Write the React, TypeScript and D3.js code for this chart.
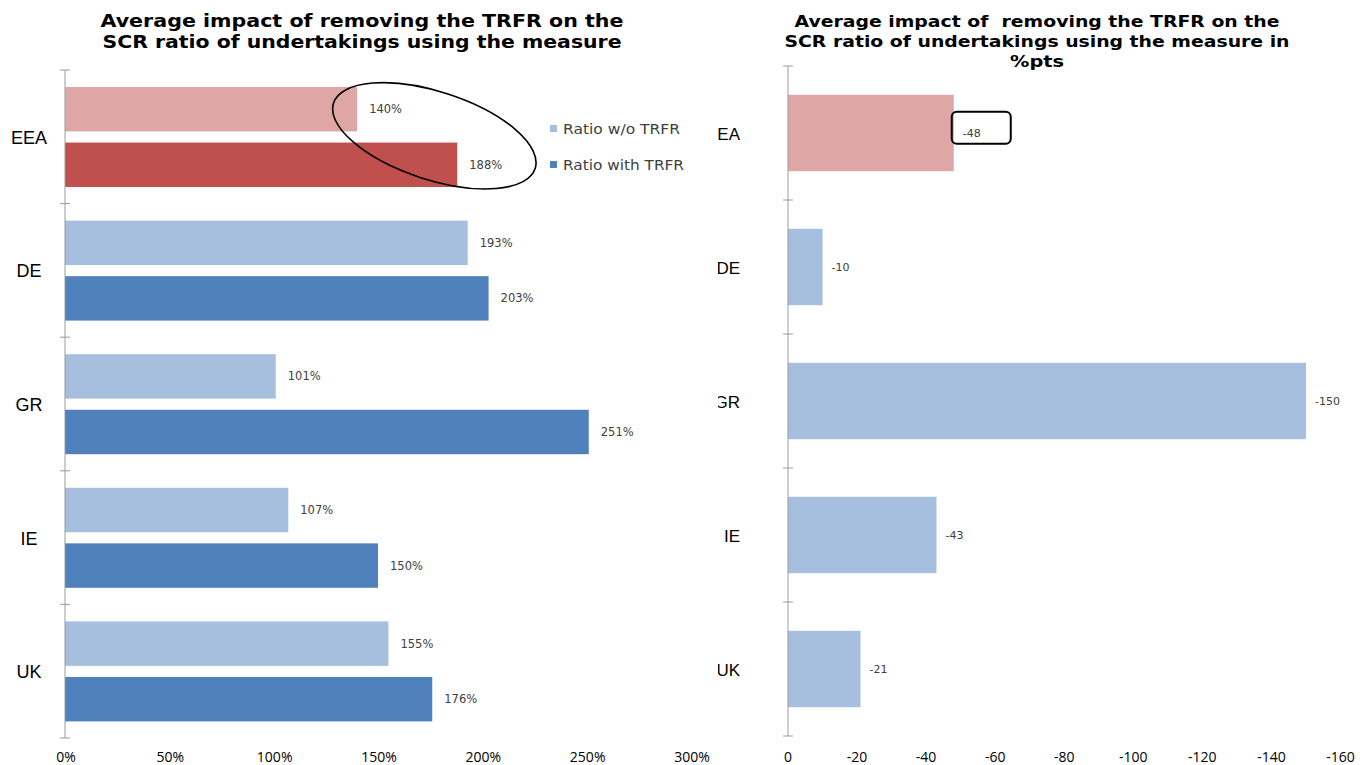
import React from "react";
import * as d3 from "d3";

const categories = ["EEA", "DE", "GR", "IE", "UK"];
const ratioWithoutTRFR = [140, 193, 101, 107, 155];
const ratioWithTRFR = [188, 203, 251, 150, 176];
const impactPts = [-48, -10, -150, -43, -21];
const leftTicks = [0, 50, 100, 150, 200, 250, 300];
const rightTicks = [0, -20, -40, -60, -80, -100, -120, -140, -160];
const seriesNames = ["Ratio w/o TRFR", "Ratio with TRFR"];

const C_LIGHT = "#A7BFDE";
const C_DARK = "#4F81BD";
const C_PINK = "#DEA7A6";
const C_RED = "#C0504D";
const AXIS = "#9a9a9a";
const TXT = "#404040";

export default function App() {
  const W = 1360, H = 765;
  // Left chart scales
  const xL = d3.scaleLinear().domain([0, 300]).range([65, 691]);
  const yL = d3.scaleBand<string>().domain(categories).range([70, 738]).padding(0);
  const sub = d3.scaleBand<string>().domain(["wo", "with"]).range([17, 117]).paddingInner(0.2);
  // Right chart scales
  const xR = d3.scaleLinear().domain([0, -160]).range([788, 1340.5]);
  const yR = d3.scaleBand<string>().domain(categories).range([66, 736]).paddingInner(0.43).paddingOuter(0.215);

  const sans = "'DejaVu Sans', Verdana, sans-serif";
  const catFont = "'Liberation Sans', Arial, sans-serif";
  const tickFont = "'Open Sans', 'Liberation Sans', sans-serif";

  const eeaC = yL("EEA")! + yL.bandwidth() / 2;

  const titleL = [
    { t: "Average impact of removing the TRFR on the", y: 27, w: 523 },
    { t: "SCR ratio of undertakings using the measure", y: 48, w: 519 },
  ];
  const titleR = [
    { t: "Average impact of  removing the TRFR on the", y: 27, w: 485 },
    { t: "SCR ratio of undertakings using the measure in", y: 47, w: 505 },
    { t: "%pts", y: 67, w: 54 },
  ];

  return (
    <svg width={W} height={H} style={{ position: "absolute", left: 0, top: 0, background: "#fff" }}>
      <defs>
        <clipPath id="rightClip">
          <rect x={718} y={0} width={W - 718} height={H} />
        </clipPath>
      </defs>
      <rect width={W} height={H} fill="#fff" />

      {/* Left title */}
      {titleL.map((l) => (
        <text key={l.t} x={362} y={l.y} textAnchor="middle" fontFamily={sans} fontWeight="bold" fontSize={17}
          textLength={l.w} lengthAdjust="spacingAndGlyphs" fill="#000" style={{ whiteSpace: "pre" }}>
          {l.t}
        </text>
      ))}

      {/* Left bars */}
      {categories.map((c, i) => {
        const y0 = yL(c)!;
        const isEEA = c === "EEA";
        const vals = [ratioWithoutTRFR[i], ratioWithTRFR[i]];
        return (
          <g key={c}>
            {["wo", "with"].map((s, j) => {
              const y = y0 + sub(s)!;
              const fill = isEEA ? (j === 0 ? C_PINK : C_RED) : j === 0 ? C_LIGHT : C_DARK;
              return (
                <g key={s}>
                  <rect x={xL(0)} y={y} width={xL(vals[j]) - xL(0)} height={sub.bandwidth()} fill={fill} />
                  <text x={xL(vals[j]) + 12} y={y + sub.bandwidth() / 2 + 4} fontFamily={sans} fontSize={11.5} fill={TXT}>
                    {vals[j]}%
                  </text>
                </g>
              );
            })}
            <text x={29} y={y0 + yL.bandwidth() / 2 + 7} textAnchor="middle" fontFamily={catFont} fontSize={18} fill="#000">
              {c}
            </text>
          </g>
        );
      })}
      {/* Left axis */}
      <line x1={xL(0)} x2={xL(0)} y1={70} y2={738} stroke={AXIS} strokeWidth={1} />
      {[...categories.map((c) => yL(c)!), 738].map((y, i) => (
        <line key={i} x1={xL(0) - 5} x2={xL(0) + 5} y1={y} y2={y} stroke={AXIS} strokeWidth={1} />
      ))}
      {leftTicks.map((t) => (
        <text key={t} x={xL(t) + 1} y={762} textAnchor="middle" fontFamily={tickFont} fontSize={14} fill="#000">
          {t}%
        </text>
      ))}

      {/* Legend */}
      {seriesNames.map((n, i) => (
        <g key={n}>
          <rect x={550} y={125 + i * 36} width={7} height={7} fill={i === 0 ? C_LIGHT : C_DARK} />
          <text x={563} y={134 + i * 36} fontFamily={sans} fontSize={13.5} fill={TXT}
            textLength={i === 0 ? 117 : 121} lengthAdjust="spacingAndGlyphs">
            {n}
          </text>
        </g>
      ))}

      {/* Ellipse annotation */}
      <ellipse
        cx={xL(177)}
        cy={eeaC - 1}
        rx={106}
        ry={44}
        transform={`rotate(18 ${xL(177)} ${eeaC - 1})`}
        fill="none"
        stroke="#000"
        strokeWidth={1.6}
      />

      {/* Right title */}
      {titleR.map((l) => (
        <text key={l.t} x={1037} y={l.y} textAnchor="middle" fontFamily={sans} fontWeight="bold" fontSize={15.5}
          textLength={l.w} lengthAdjust="spacingAndGlyphs" fill="#000" style={{ whiteSpace: "pre" }}>
          {l.t}
        </text>
      ))}

      {/* Right category labels (clipped) */}
      <g clipPath="url(#rightClip)">
        {categories.map((c) => (
          <text key={c} x={740} y={yR(c)! + yR.bandwidth() / 2 + 7} textAnchor="end" fontFamily={catFont} fontSize={17} fill="#000">
            {c}
          </text>
        ))}
      </g>

      {/* Right bars */}
      {categories.map((c, i) => {
        const v = impactPts[i];
        const y = yR(c)!;
        return (
          <g key={c}>
            <rect x={xR(0)} y={y} width={xR(v) - xR(0)} height={yR.bandwidth()} fill={c === "EEA" ? C_PINK : C_LIGHT} />
            <text x={xR(v) + 9} y={y + yR.bandwidth() / 2 + 4} fontFamily={sans} fontSize={11} fill={TXT}>
              {v}
            </text>
          </g>
        );
      })}
      {/* Box annotation around -48 */}
      <rect x={xR(-48) - 2} y={yR("EEA")! + 17} width={59} height={32} rx={5} ry={5} fill="none" stroke="#000" strokeWidth={2} />

      {/* Right axis */}
      <line x1={xR(0)} x2={xR(0)} y1={66} y2={736} stroke={AXIS} strokeWidth={1} />
      {[...categories.map((c) => yR(c)! - yR.step() * 0.215), 736].map((y, i) => (
        <line key={i} x1={xR(0) - 5} x2={xR(0) + 5} y1={y} y2={y} stroke={AXIS} strokeWidth={1} />
      ))}
      {rightTicks.map((t) => (
        <text key={t} x={xR(t)} y={762} textAnchor="middle" fontFamily={tickFont} fontSize={14} fill="#000">
          {t}
        </text>
      ))}
    </svg>
  );
}
